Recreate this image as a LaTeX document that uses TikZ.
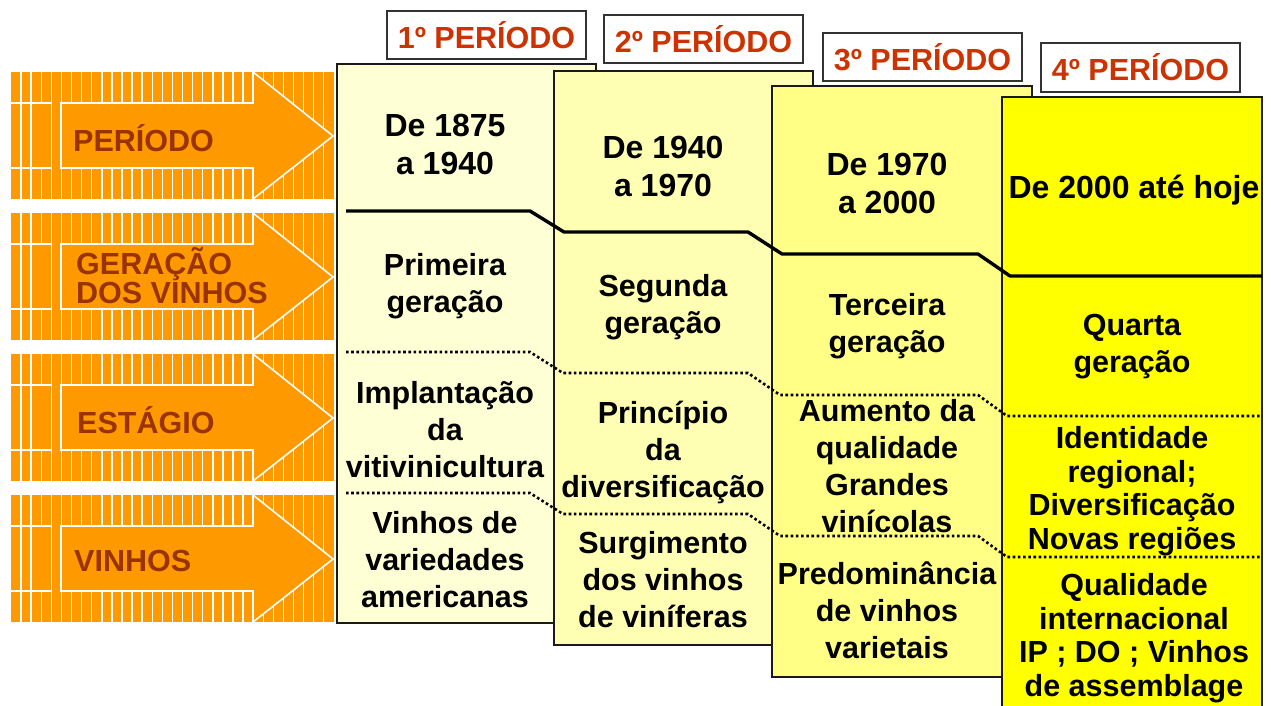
\documentclass[tikz,border=0pt]{standalone}
\usepackage{fontspec}
\setmainfont{Liberation Sans}
\definecolor{orangeA}{HTML}{FF9900}
\definecolor{brownA}{HTML}{993300}
\definecolor{redA}{HTML}{CC3300}
\definecolor{boxA}{HTML}{FFFFD6}
\definecolor{boxB}{HTML}{FFFFB3}
\definecolor{boxC}{HTML}{FFFF85}
\definecolor{boxD}{HTML}{FFFF00}
\definecolor{edgeA}{HTML}{1A1A1A}
\begin{document}
\begin{tikzpicture}[x=1pt,y=-1pt,
  stripe/.style={white,line width=1.4pt},
  arrowshape/.style={fill=orangeA,draw=white,line width=1.6pt,line join=miter},
  lefttxt/.style={anchor=west,text=brownA,font=\fontsize{30.5}{29}\selectfont\bfseries,align=left,inner sep=0pt},
  coltxt/.style={align=center,font=\fontsize{30.5}{37}\selectfont\bfseries,inner sep=0pt},
  datetxt/.style={align=center,font=\fontsize{32}{37.5}\selectfont\bfseries,inner sep=0pt},
  tighttxt/.style={align=center,font=\fontsize{30.5}{33.5}\selectfont\bfseries,inner sep=0pt},
  colbox/.style={draw=edgeA,line width=1.6pt},
  hdr/.style={draw=black!80,line width=2pt,fill=white,text=redA,font=\fontsize{30.5}{36}\selectfont\bfseries,minimum width=199pt,minimum height=48pt,inner sep=0pt},
  solidline/.style={black,line width=3.4pt,line join=round},
  dotline/.style={black,line width=2.6pt,dash pattern=on 2.6pt off 2.6pt}
]
\useasboundingbox (0,0) rectangle (1271,706);
\fill[white] (0,0) rectangle (1271,706);

% ---- left striped arrows ----
\foreach \T/\i in {72/1,213/2,354/3,495/4}{
  \fill[orangeA] (11,\T) rectangle (334,\T+127);
  \foreach \k in {1,...,31}{
    \draw[stripe] ({11+\k*10.09},\T) -- ({11+\k*10.09},\T+127);
  }
  \fill[orangeA] (32,\T+32) rectangle (49.8,\T+95);
  \draw[stripe] (11,\T+31) -- (51.5,\T+31);
  \draw[stripe] (11,\T+96) -- (51.5,\T+96);
  \draw[arrowshape] (61,\T+31) -- (253,\T+31) -- (253,\T) -- (333,\T+64)
     -- (253,\T+127) -- (253,\T+96) -- (61,\T+96) -- cycle;
}
\node[lefttxt] (l1) at (73,138) {PERÍODO};
\node[lefttxt] (l2) at (76,276) {GERAÇÃO\\DOS VINHOS};
\node[lefttxt] (l3) at (77,420) {ESTÁGIO};
\node[lefttxt] (l4) at (74,561) {VINHOS};

% ---- column boxes ----
\draw[colbox,fill=boxA] (337,64) rectangle (596,623);
\draw[colbox,fill=boxB] (554,71) rectangle (813,645);
\draw[colbox,fill=boxC] (772,86) rectangle (1032,677);
\draw[colbox,fill=boxD] (1002,97) rectangle (1262,720);

% ---- period headers ----
\node[hdr] (h1) at (486.5,35) {1º PERÍODO};
\node[hdr] (h2) at (703.5,39) {2º PERÍODO};
\node[hdr] (h3) at (922.5,57) {3º PERÍODO};
\node[hdr,minimum height=49pt] (h4) at (1140.5,67.5) {4º PERÍODO};

% ---- separating lines ----
\coordinate (s1) at (346,211); \coordinate (s2) at (530,211);
\coordinate (s3) at (564,232); \coordinate (s4) at (748,232);
\coordinate (s5) at (782,254); \coordinate (s6) at (978,254);
\coordinate (s7) at (1010,276); \coordinate (s8) at (1262,276);
\draw[solidline] (s1) -- (s2) -- (s3) -- (s4) -- (s5) -- (s6) -- (s7) -- (s8);

\coordinate (a1) at (346,352); \coordinate (a2) at (530,352);
\coordinate (a3) at (563,373); \coordinate (a4) at (748,373);
\coordinate (a5) at (780,395); \coordinate (a6) at (978,395);
\coordinate (a7) at (1007,416); \coordinate (a8) at (1262,416);
\draw[dotline] (a1) -- (a2) -- (a3) -- (a4) -- (a5) -- (a6) -- (a7) -- (a8);

\coordinate (b1) at (346,493); \coordinate (b2) at (530,493);
\coordinate (b3) at (563,514); \coordinate (b4) at (748,514);
\coordinate (b5) at (780,536); \coordinate (b6) at (978,536);
\coordinate (b7) at (1007,557); \coordinate (b8) at (1262,557);
\draw[dotline] (b1) -- (b2) -- (b3) -- (b4) -- (b5) -- (b6) -- (b7) -- (b8);

% ---- column 1 ----
\node[datetxt] (c1a) at (445,144.5) {De 1875\\a 1940};
\node[coltxt] (c1b) at (445,286) {Primeira\\geração};
\node[coltxt] (c1c) at (445,430) {Implantação\\da\\vitivinicultura};
\node[coltxt] (c1d) at (445,560) {Vinhos de\\variedades\\americanas};

% ---- column 2 ----
\node[datetxt] (c2a) at (663,166.5) {De 1940\\a 1970};
\node[coltxt] (c2b) at (663,307) {Segunda\\geração};
\node[coltxt] (c2c) at (663,452) {Princípio\\da\\diversificação};
\node[coltxt] (c2d) at (663,580) {Surgimento\\dos vinhos\\de viníferas};

% ---- column 3 ----
\node[datetxt] (c3a) at (887,183.5) {De 1970\\a 2000};
\node[coltxt] (c3b) at (887,326) {Terceira\\geração};
\node[coltxt] (c3c) at (887,466) {Aumento da\\qualidade\\Grandes\\vinícolas};
\node[coltxt] (c3d) at (887,610) {Predominância\\de vinhos\\varietais};

% ---- column 4 ----
\node[datetxt] (c4a) at (1134,190) {De 2000 até hoje};
\node[coltxt] (c4b) at (1132,347) {Quarta\\geração};
\node[tighttxt] (c4c) at (1132,491) {Identidade\\regional;\\Diversificação\\Novas regiões};
\node[tighttxt] (c4d) at (1134,638) {Qualidade\\internacional\\IP ; DO ; Vinhos\\de assemblage};
\end{tikzpicture}
\end{document}
